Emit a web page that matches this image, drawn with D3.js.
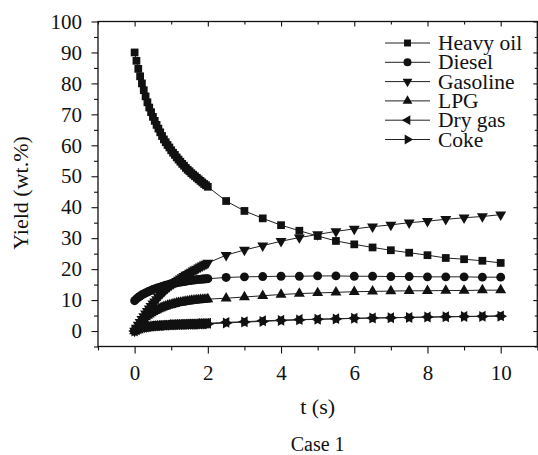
<!DOCTYPE html>
<html lang="en">

<head>
  <meta charset="UTF-8">
  <title>Yield vs time - Case 1</title>
  <script src="https://d3js.org/d3.v7.min.js"></script>
  <style>
    body { margin: 0; background: #fff; }
  </style>
</head>

<body>
  <svg id="chart" width="538" height="455"></svg>

  <script>
    // residence time (s): dense sampling up to 2 s, then every 0.5 s
    const times = [0, 0.05, 0.1, 0.15, 0.2, 0.25, 0.3, 0.35, 0.4, 0.45, 0.5, 0.55, 0.6, 0.65, 0.7, 0.75,
      0.8, 0.85, 0.9, 0.95, 1, 1.05, 1.1, 1.15, 1.2, 1.25, 1.3, 1.35, 1.4, 1.45, 1.5, 1.55, 1.6, 1.65,
      1.7, 1.75, 1.8, 1.85, 1.9, 1.95, 2, 2.5, 3, 3.5, 4, 4.5, 5, 5.5, 6, 6.5, 7, 7.5, 8, 8.5, 9, 9.5, 10];

    const heavyOil = [90.0, 87.3, 84.7, 82.3, 80.0, 77.8, 75.8, 73.9, 72.2, 70.7, 69.2, 67.9, 66.6, 65.4,
      64.2, 63.0, 61.9, 61.0, 60.1, 59.3, 58.4, 57.6, 56.9, 56.1, 55.4, 54.7, 54.0, 53.4, 52.7, 52.1, 51.6,
      51.0, 50.5, 50.0, 49.5, 49.0, 48.5, 48.0, 47.5, 47.1, 46.6,
      42.0, 38.8, 36.4, 34.2, 32.4, 30.7, 29.1, 28.0, 27.0, 26.1, 25.3, 24.5, 23.6, 23.2, 22.7, 22.0];

    const diesel = [9.8, 10.4, 10.9, 11.3, 11.7, 12.0, 12.3, 12.6, 12.9, 13.1, 13.4, 13.6, 13.8, 14.0,
      14.2, 14.4, 14.6, 14.8, 14.9, 15.1, 15.2, 15.4, 15.5, 15.6, 15.7, 15.8, 15.9, 16.0, 16.1, 16.2, 16.3,
      16.4, 16.5, 16.5, 16.6, 16.7, 16.7, 16.8, 16.8, 16.9, 16.9,
      17.3, 17.5, 17.6, 17.7, 17.7, 17.8, 17.8, 17.7, 17.7, 17.6, 17.6, 17.5, 17.5, 17.5, 17.4, 17.4];

    const gasoline = [0.0, 1.0, 2.0, 2.9, 3.8, 4.7, 5.6, 6.4, 7.2, 8.0, 8.8, 9.5, 10.2, 10.9, 11.6, 12.2,
      12.8, 13.4, 13.9, 14.4, 14.9, 15.3, 15.7, 16.1, 16.5, 16.9, 17.3, 17.7, 18.1, 18.4, 18.8, 19.1, 19.5,
      19.8, 20.1, 20.5, 20.8, 21.1, 21.4, 21.7, 22.0,
      24.5, 26.2, 27.6, 29.0, 30.2, 31.2, 32.2, 33.0, 33.7, 34.3, 35.0, 35.5, 36.1, 36.6, 37.0, 37.6];

    const lpg = [0.0, 0.9, 1.8, 2.6, 3.3, 3.9, 4.5, 5.0, 5.4, 5.8, 6.2, 6.5, 6.8, 7.1, 7.3, 7.6, 7.8, 8.0,
      8.2, 8.4, 8.5, 8.7, 8.8, 9.0, 9.1, 9.2, 9.3, 9.4, 9.5, 9.6, 9.7, 9.8, 9.8, 9.9, 10.0, 10.0, 10.1,
      10.1, 10.2, 10.2, 10.3,
      10.6, 11.0, 11.4, 11.8, 12.1, 12.3, 12.5, 12.7, 12.8, 12.9, 13.0, 13.0, 13.1, 13.1, 13.2, 13.2];

    const dryGas = [0.0, 0.4, 0.7, 0.9, 1.1, 1.2, 1.3, 1.4, 1.5, 1.6, 1.6, 1.7, 1.7, 1.8, 1.8, 1.9, 1.9,
      1.9, 2.0, 2.0, 2.0, 2.1, 2.1, 2.1, 2.1, 2.2, 2.2, 2.2, 2.2, 2.3, 2.3, 2.3, 2.3, 2.3, 2.4, 2.4, 2.4,
      2.4, 2.4, 2.5, 2.5,
      2.8, 3.0, 3.3, 3.5, 3.7, 3.8, 4.0, 4.1, 4.2, 4.3, 4.4, 4.5, 4.6, 4.7, 4.8, 4.9];

    const coke = [0.0, 0.3, 0.6, 0.8, 1.0, 1.1, 1.2, 1.3, 1.4, 1.5, 1.5, 1.6, 1.6, 1.7, 1.7, 1.8, 1.8,
      1.8, 1.9, 1.9, 1.9, 2.0, 2.0, 2.0, 2.0, 2.1, 2.1, 2.1, 2.1, 2.1, 2.2, 2.2, 2.2, 2.2, 2.2, 2.2, 2.3,
      2.3, 2.3, 2.3, 2.3,
      2.6, 2.9, 3.1, 3.4, 3.6, 3.8, 3.9, 4.1, 4.2, 4.3, 4.4, 4.5, 4.6, 4.7, 4.7, 4.8];

    const seriesNames = ["Heavy oil", "Diesel", "Gasoline", "LPG", "Dry gas", "Coke"];
    const seriesValues = [heavyOil, diesel, gasoline, lpg, dryGas, coke];

    const xTicks = [0, 2, 4, 6, 8, 10];
    const yTicks = [0, 10, 20, 30, 40, 50, 60, 70, 80, 90, 100];

    // marker shape + rotation for each series
    const markers = [
      { type: d3.symbolSquare, size: 60, rotate: 0 },
      { type: d3.symbolCircle, size: 62, rotate: 0 },
      { type: d3.symbolTriangle, size: 52, rotate: 180 },
      { type: d3.symbolTriangle, size: 52, rotate: 0 },
      { type: d3.symbolTriangle, size: 52, rotate: -90 },
      { type: d3.symbolTriangle, size: 52, rotate: 90 }
    ];

    const serif = '"Liberation Serif", "Times New Roman", serif';
    const ink = "#111";

    const svg = d3.select("#chart");
    const plotLeft = 98, plotRight = 537.3, plotTop = 21.5, plotBottom = 346.5;

    const x = d3.scaleLinear().domain([-1, 11]).range([plotLeft, plotRight]);
    const y = d3.scaleLinear().domain([-5, 100]).range([plotBottom, plotTop]);

    // ---- axes (all four sides) ----
    const minorX = d3.range(-1, 11.01, 1).filter(d => !xTicks.includes(d));
    const minorY = d3.range(-5, 100.01, 5).filter(d => !yTicks.includes(d));

    function tickGroup(tx, ty, axis) {
      return svg.append("g")
        .attr("transform", `translate(${tx},${ty})`)
        .call(axis)
        .attr("font-family", serif);
    }

    tickGroup(0, plotBottom, d3.axisBottom(x).tickValues(xTicks).tickSize(7).tickPadding(12).tickFormat(d3.format("d")))
      .attr("font-size", 21);
    tickGroup(0, plotBottom, d3.axisBottom(x).tickValues(minorX).tickSize(4).tickFormat(""));

    tickGroup(0, plotTop, d3.axisBottom(x).tickValues(xTicks).tickSize(5).tickFormat(""));
    tickGroup(0, plotTop, d3.axisBottom(x).tickValues(minorX).tickSize(3).tickFormat(""));

    tickGroup(plotLeft, 0, d3.axisLeft(y).tickValues(yTicks).tickSize(6.5).tickPadding(9.5).tickFormat(d3.format("d")))
      .attr("font-size", 21);
    tickGroup(plotLeft, 0, d3.axisLeft(y).tickValues(minorY).tickSize(4).tickFormat(""));

    tickGroup(plotRight, 0, d3.axisLeft(y).tickValues(yTicks).tickSize(4).tickFormat(""));
    tickGroup(plotRight, 0, d3.axisLeft(y).tickValues(minorY).tickSize(2.5).tickFormat(""));

    svg.selectAll(".domain").remove();
    svg.selectAll(".tick line").attr("stroke", ink).attr("stroke-width", 1.1);
    svg.selectAll(".tick text").attr("fill", ink);

    svg.append("rect")
      .attr("x", plotLeft).attr("y", plotTop)
      .attr("width", plotRight - plotLeft).attr("height", plotBottom - plotTop)
      .attr("fill", "none").attr("stroke", ink).attr("stroke-width", 1.3);

    // ---- series ----
    const line = d3.line().x(d => x(d[0])).y(d => y(d[1]));

    seriesValues.forEach((vals, i) => {
      const pts = times.map((t, j) => [t, vals[j]]);
      const g = svg.append("g").attr("class", "series");
      g.append("path")
        .attr("d", line(pts))
        .attr("fill", "none")
        .attr("stroke", "#222")
        .attr("stroke-width", 1);
      const m = markers[i];
      g.selectAll("path.pt")
        .data(pts)
        .join("path")
        .attr("class", "pt")
        .attr("d", d3.symbol().type(m.type).size(m.size))
        .attr("transform", d => `translate(${x(d[0])},${y(d[1])}) rotate(${m.rotate})`)
        .attr("fill", ink);
    });

    // ---- legend ----
    const legend = svg.append("g").attr("transform", "translate(385,43)");
    seriesNames.forEach((name, i) => {
      const row = legend.append("g").attr("transform", `translate(0,${i * 19.3})`);
      row.append("line").attr("x1", 0).attr("x2", 45).attr("stroke", "#222").attr("stroke-width", 1);
      const m = markers[i];
      row.append("path")
        .attr("d", d3.symbol().type(m.type).size(m.size * 0.8))
        .attr("transform", `translate(22.5,0) rotate(${m.rotate})`)
        .attr("fill", ink);
      row.append("text")
        .attr("x", 53).attr("y", 0).attr("dy", "0.33em")
        .attr("font-family", serif)
        .attr("font-size", 21.5)
        .attr("fill", ink)
        .text(name);
    });

    // ---- titles ----
    svg.append("text")
      .attr("x", (plotLeft + plotRight) / 2).attr("y", 414)
      .attr("text-anchor", "middle")
      .attr("font-family", serif).attr("font-size", 22).attr("fill", ink)
      .text("t (s)");

    svg.append("text")
      .attr("x", (plotLeft + plotRight) / 2).attr("y", 451)
      .attr("text-anchor", "middle")
      .attr("font-family", serif).attr("font-size", 20).attr("fill", ink)
      .text("Case 1");

    svg.append("text")
      .attr("transform", "translate(28,193) rotate(-90)")
      .attr("text-anchor", "middle")
      .attr("font-family", serif).attr("font-size", 22).attr("fill", ink)
      .text("Yield (wt.%)");
  </script>
</body>

</html>
